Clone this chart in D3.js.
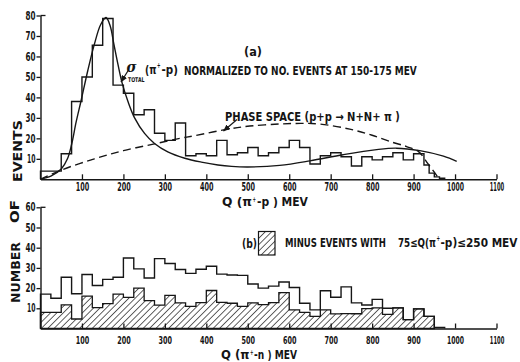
<!DOCTYPE html>
<html><head><meta charset="utf-8">
<script src="https://cdn.jsdelivr.net/npm/d3@7"></script>
<style>
body{margin:0;background:#fff}
svg{display:block;background:#fff}
text{font-family:"Liberation Sans Narrow","DejaVu Sans Condensed","Liberation Sans",sans-serif;font-weight:bold;fill:#141414}
</style></head><body>
<svg id="c" width="520" height="362"></svg>
<script>
// ---------- data ----------
const xTicks = [100,200,300,400,500,600,700,800,900,1000,1100];
const topYTicks = [10,20,30,40,50,60,70,80];
const botYTicks = [10,20,30,40,50,60];

// (a) Q(pi+ - p) histogram : bin edges (MeV) and counts
const topEdges = [0,25,50,75,100,125,150,175,200,225,250,275,300,325,350,375,400,425,450,475,500,
  525,550,575,600,625,650,675,700,725,750,775,800,825,850,875,900,925,937.5,950,962.5,975];
const topCounts = [4,4,12.5,38,50,65.5,78.5,46,42,31.5,34,22.5,19,27.5,11.5,12.5,11.5,19,12,13,
  15.5,11.5,13,15.5,19,15.5,7.5,11.5,13,11,6.5,11,9.5,11,13,9.5,12.5,7,3,1.2,0.5];

// sigma_total(pi+ p) normalised curve (MeV, events)
const sigmaQ = [0,25,50,65,75,86,98,114,130,145,158,168,177,187,197,211,227,251,275,307,348,388,428,461,500,577,650,730,811,859,915,972,1004];
const sigmaV = [0,1.5,5,10,17,28,38.5,53,66,75.5,79,75,66,56,47,38,30,22.4,17.5,13.4,10.3,8.4,7,6.3,6,6.8,9,12,14.5,15.2,14,11.3,8.8];

// phase space curve (MeV, events)
const phaseQ = [0,50,130,200,275,336,372,452,505,577,630,674,746,800,850,883,912,935,950,960];
const phaseV = [0,4.5,10,14,17.3,20,21.3,24.5,26,27,27.3,27,24.5,21.5,18,16,13.5,7.5,3.5,0.5];

// (b) Q(pi+ - n) histograms, 25 MeV bins starting at:
const botStarts = [0,25,50,75,100,125,150,175,200,225,250,275,300,325,350,375,400,425,450,475,
  500,525,550,575,600,625,650,675,700,725,750,775,800,825,850,875,900,925,950];
const botAll = [17,15,25.4,17.2,26.7,21.3,24.3,25.4,34.9,29.5,25,34.6,32.2,29.2,27.3,29.3,30.8,26.9,26.5,26.3,
  22,20,21,23,20.3,12.5,9.2,18.7,15.5,20.6,12.7,11.6,14.4,10,10.2,4.4,9.7,6,0.5];
const botMinus = [8,8,11.7,4.7,16,10.3,12.3,17,15.4,20,13.8,11.6,16.4,12.7,11,12.8,18.8,12.9,12.5,11,
  12.7,11.8,12.8,17.8,9.2,8,6,9.2,7.2,7.4,7.3,9.8,10.2,7,10.2,4.4,9.7,6];
const botWidth = 25;

// ---------- chart ----------
const ink = "#161616";
const svg = d3.select("#c");
const x = d3.scaleLinear().domain([0,1100]).range([40.5,496.5]);
const yTop = d3.scaleLinear().domain([0,80]).range([179.3,15.5]);
const yBot = d3.scaleLinear().domain([0,60]).range([328.5,207.3]);

const defs = svg.append("defs");
const pat = defs.append("pattern").attr("id","hatch").attr("patternUnits","userSpaceOnUse")
  .attr("width",4.5).attr("height",4.5).attr("patternTransform","rotate(45)");
pat.append("line").attr("x1",0).attr("y1",0).attr("x2",0).attr("y2",4.5)
  .attr("stroke",ink).attr("stroke-width",1.35);
const mk = defs.append("marker").attr("id","arr").attr("markerUnits","userSpaceOnUse")
  .attr("markerWidth",7).attr("markerHeight",6).attr("refX",6.5).attr("refY",3).attr("orient","auto");
mk.append("path").attr("d","M0,0 L7,3 L0,6 Z").attr("fill",ink);

function histPoints(edges, counts){
  const pts=[[edges[0],0]];
  counts.forEach((c,i)=>{pts.push([edges[i],c],[edges[i+1],c]);});
  pts.push([edges[counts.length],0]);
  return pts;
}
function edgesFromStarts(starts, w, n){
  const e = starts.slice(0,n); e.push(starts[n-1]+w); return e;
}

// ---- panel (a) ----
const lineTop = d3.line().x(d=>x(d[0])).y(d=>yTop(d[1]));
svg.append("path").attr("d",lineTop(histPoints(topEdges,topCounts)))
  .attr("fill","none").attr("stroke",ink).attr("stroke-width",1.4);

const smooth = d3.line().x(d=>x(d[0])).y(d=>yTop(d[1])).curve(d3.curveCatmullRom.alpha(0.5));
svg.append("path").attr("d",smooth(sigmaQ.map((q,i)=>[q,sigmaV[i]])))
  .attr("fill","none").attr("stroke",ink).attr("stroke-width",1.4);
svg.append("path").attr("d",smooth(phaseQ.map((q,i)=>[q,phaseV[i]])))
  .attr("fill","none").attr("stroke",ink).attr("stroke-width",1.4).attr("stroke-dasharray","8,4.5");

// ---- panel (b) ----
const lineBot = d3.line().x(d=>x(d[0])).y(d=>yBot(d[1]));
const minusPts = histPoints(edgesFromStarts(botStarts,botWidth,botMinus.length),botMinus);
svg.append("path").attr("d",lineBot(minusPts)+"Z")
  .attr("fill","url(#hatch)").attr("stroke",ink).attr("stroke-width",1.3);
svg.append("path").attr("d",lineBot(histPoints(edgesFromStarts(botStarts,botWidth,botAll.length),botAll)))
  .attr("fill","none").attr("stroke",ink).attr("stroke-width",1.4);

// ---- axes ----
function styleAxis(g, fs, lenFn){
  g.attr("font-family",null).attr("font-size",null);
  g.select(".domain").attr("stroke",ink).attr("stroke-width",1.4);
  g.selectAll(".tick line").attr("stroke",ink).attr("stroke-width",1.3);
  g.selectAll(".tick text").style("font-size",fs+"px")
    .attr("textLength",d=>lenFn(String(d))).attr("lengthAdjust","spacingAndGlyphs");
}
const xLen = t => t==="1100"?14.5:(t.length===4?17:13.5);
const yLen = t => t==="10"?8.5:10;
const fmt = d3.format("d");

const gxTop = svg.append("g").attr("transform",`translate(0,${yTop(0)})`)
  .call(d3.axisBottom(x).tickValues(xTicks).tickFormat(fmt).tickSizeInner(-5).tickSizeOuter(0).tickPadding(3.5));
styleAxis(gxTop,11.5,xLen);
const gyTop = svg.append("g").attr("transform",`translate(${x(0)},0)`)
  .call(d3.axisLeft(yTop).tickValues(topYTicks).tickFormat(fmt).tickSizeInner(4).tickSizeOuter(0).tickPadding(1));
styleAxis(gyTop,11.5,yLen);
svg.append("line").attr("x1",x(0)).attr("x2",x(0)+5).attr("y1",yTop(80)).attr("y2",yTop(80))
  .attr("stroke",ink).attr("stroke-width",1.3);

const gxBot = svg.append("g").attr("transform",`translate(0,${yBot(0)})`)
  .call(d3.axisBottom(x).tickValues(xTicks).tickFormat(fmt).tickSizeInner(-5).tickSizeOuter(0).tickPadding(8));
styleAxis(gxBot,11,xLen);
const gyBot = svg.append("g").attr("transform",`translate(${x(0)},0)`)
  .call(d3.axisLeft(yBot).tickValues(botYTicks).tickFormat(fmt).tickSizeInner(4).tickSizeOuter(0).tickPadding(1));
styleAxis(gyBot,11.5,yLen);
svg.append("line").attr("x1",x(0)).attr("x2",x(0)+5).attr("y1",yBot(60)).attr("y2",yBot(60))
  .attr("stroke",ink).attr("stroke-width",1.3);

// ---- texts: fitted to a target width with a horizontal scale ----
function txt(s, px, py, fs, len, opts={}){
  const t = svg.append("text").attr("x",0).attr("y",0).style("font-size",fs+"px").text(s);
  if(opts.family) t.style("font-family",opts.family);
  if(opts.italic) t.style("font-style","italic");
  let sx = 1;
  if(len){ const w = t.node().getComputedTextLength(); if(w>0) sx = len/w; }
  const rot = opts.rot!==undefined ? ` rotate(${opts.rot})` : "";
  t.attr("transform",`translate(${px},${py})${rot} scale(${sx.toFixed(4)},1)`);
  return t;
}
txt("(a)",244,56,13,18);
txt("σ",126.5,72,15,10,{family:"DejaVu Serif",italic:true});
txt("TOTAL",128,82,6.5,16.5);
txt("(π",145,74,12,11.5);
txt("+",157,67.5,8,3.5);
txt("-p)",161.5,74,12,16.5);
txt("NORMALIZED TO NO. EVENTS AT 150-175 MEV",184,74.5,12,233);
svg.append("line").attr("x1",128.5).attr("y1",70).attr("x2",121).attr("y2",82)
  .attr("stroke",ink).attr("stroke-width",1.2).attr("marker-end","url(#arr)");

txt("PHASE SPACE (p+p → N+N+ π )",225,120.5,12,175);
svg.append("line").attr("x1",237).attr("y1",119.5).attr("x2",223.5).attr("y2",131)
  .attr("stroke",ink).attr("stroke-width",1.2).attr("marker-end","url(#arr)");

txt("Q (π",222,206,12,30);
txt("+",252.5,202.3,7.5,3.5);
txt("-p ) MEV",257,206,12,51);

txt("(b)",242,247.5,12.5,15);
svg.append("rect").attr("x",258.5).attr("y",231.5).attr("width",16.5).attr("height",23.5)
  .attr("fill","url(#hatch)").attr("stroke",ink).attr("stroke-width",1.2);
txt("MINUS EVENTS WITH",285,247,12,101);
txt("75≤Q(π",398,247,12,38);
txt("+",436.5,240.5,8,3.5);
txt("-p)≤250 MEV",440.5,247,12,77);

txt("Q (π",221,359,12,28.5);
txt("+",250,355,7.5,3.5);
txt("-n ) MEV",254,359,12,43);

txt("EVENTS",21.5,182,12,62,{rot:-90});
txt("OF",19,223,12,23,{rot:-90});
txt("NUMBER",19.5,303,12,61,{rot:-90});
</script>
</body></html>
